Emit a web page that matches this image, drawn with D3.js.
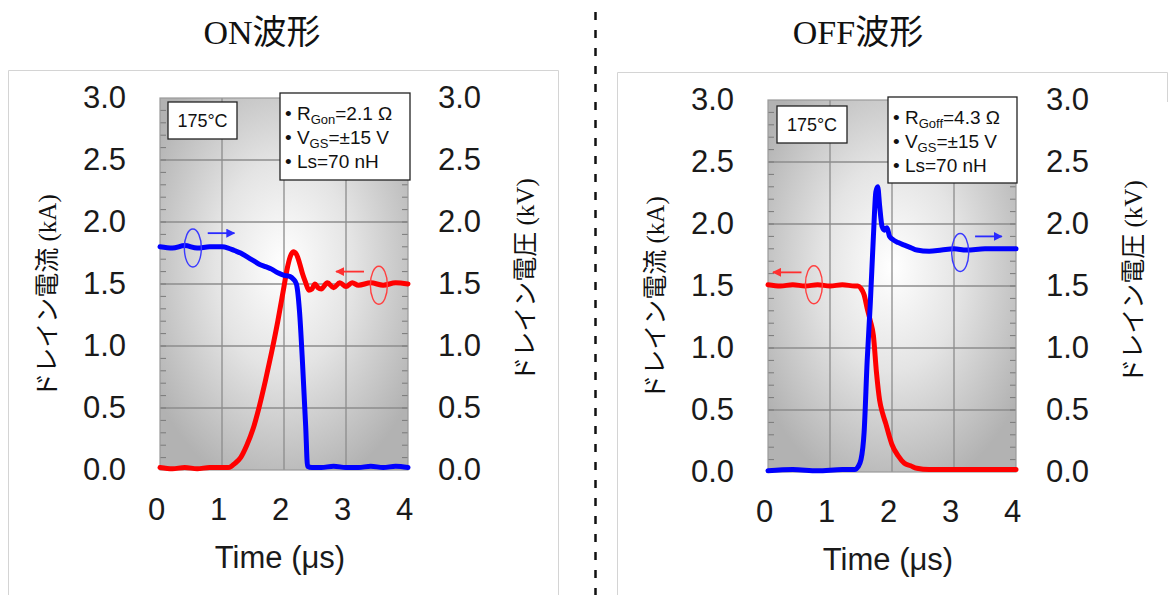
<!DOCTYPE html>
<html><head><meta charset="utf-8">
<script src="https://cdn.jsdelivr.net/npm/d3@7"></script>
<style>
html,body{margin:0;padding:0;background:#fff;}
svg{display:block;}
</style></head>
<body>
<svg id="chart" width="1172" height="595"></svg>
<script>
// ---------- DATA ----------
const xTicks = [0, 1, 2, 3, 4];
const yTicks = [0.0, 0.5, 1.0, 1.5, 2.0, 2.5, 3.0];
const panelTitles = ["ON波形", "OFF波形"];
const leftAxisTitle = "ドレイン電流 (kA)";
const rightAxisTitle = "ドレイン電圧 (kV)";
const xAxisTitle = "Time (μs)";
const tempLabel = "175°C";

// ON waveform: drain current (kA)
const onCurrentT = [0,0.2,0.4,0.6,0.8,1.0,1.1,1.15,1.2,1.3,1.4,1.5,1.6,1.7,1.8,1.9,2.0,2.05,2.1,2.15,2.2,2.25,2.3,2.35,2.4,2.45,2.5,2.55,2.6,2.7,2.8,2.9,3.0,3.1,3.2,3.4,3.6,3.8,4.0];
const onCurrentI = [0.02,0.01,0.02,0.01,0.02,0.02,0.02,0.03,0.05,0.10,0.20,0.33,0.51,0.72,0.95,1.20,1.48,1.62,1.72,1.76,1.74,1.67,1.58,1.51,1.45,1.46,1.50,1.47,1.46,1.51,1.47,1.51,1.48,1.51,1.49,1.51,1.49,1.51,1.50];
// ON waveform: drain voltage (kV)
const onVoltageT = [0,0.2,0.4,0.6,0.8,1.0,1.1,1.2,1.3,1.4,1.5,1.6,1.7,1.8,1.9,2.0,2.1,2.15,2.2,2.25,2.3,2.35,2.38,2.45,2.6,2.8,3.0,3.2,3.4,3.6,3.8,4.0];
const onVoltageV = [1.80,1.79,1.81,1.79,1.80,1.80,1.79,1.77,1.75,1.72,1.69,1.66,1.64,1.62,1.59,1.57,1.56,1.54,1.50,1.28,0.85,0.35,0.03,0.02,0.02,0.03,0.02,0.02,0.03,0.02,0.03,0.02];

// OFF waveform: drain current (kA)
const offCurrentT = [0,0.2,0.4,0.6,0.8,1.0,1.2,1.4,1.45,1.5,1.55,1.6,1.65,1.7,1.75,1.8,1.85,1.9,1.95,2.0,2.1,2.2,2.3,2.4,2.6,2.8,3.0,3.5,4.0];
const offCurrentI = [1.51,1.50,1.51,1.50,1.51,1.50,1.51,1.50,1.50,1.48,1.43,1.32,1.22,1.10,0.80,0.58,0.47,0.39,0.30,0.22,0.13,0.07,0.05,0.03,0.02,0.02,0.02,0.02,0.02];
// OFF waveform: drain voltage (kV)
const offVoltageT = [0,0.4,0.8,1.2,1.4,1.45,1.5,1.55,1.6,1.65,1.7,1.74,1.77,1.8,1.84,1.88,1.92,1.96,2.0,2.1,2.2,2.3,2.4,2.6,2.8,3.0,3.2,3.5,3.8,4.0];
const offVoltageV = [0.01,0.02,0.01,0.02,0.02,0.04,0.10,0.32,0.90,1.36,1.90,2.26,2.30,2.15,1.98,1.95,1.97,1.90,1.88,1.85,1.83,1.81,1.79,1.78,1.79,1.80,1.79,1.80,1.80,1.80];

const onParams = [["R","Gon","=2.1 Ω"],["V","GS","=±15 V"],["Ls","","=70 nH"]];
const offParams = [["R","Goff","=4.3 Ω"],["V","GS","=±15 V"],["Ls","","=70 nH"]];

// ---------- DRAW ----------
const svg = d3.select("#chart");
const defs = svg.append("defs");
const grad = defs.append("radialGradient").attr("id","bg")
  .attr("cx","50%").attr("cy","45%").attr("r","62%");
grad.append("stop").attr("offset","0%").attr("stop-color","#ffffff");
grad.append("stop").attr("offset","45%").attr("stop-color","#e4e4e4");
grad.append("stop").attr("offset","100%").attr("stop-color","#b2b2b2");

["red","blue"].forEach(c=>{
  defs.append("marker").attr("id","arr-"+c).attr("viewBox","0 0 10 10")
    .attr("refX",9).attr("refY",5).attr("markerWidth",5).attr("markerHeight",5)
    .attr("orient","auto").append("path").attr("d","M0,0 L10,5 L0,10 z")
    .attr("fill", c==="red" ? "#ff3030" : "#2a2aff");
});

// outer frames & divider
svg.append("path").attr("d","M8.5,595 V70.5 H558.5 V595").attr("fill","none").attr("stroke","#d4d4d4");
svg.append("path").attr("d","M617.5,595 V72.5 H1167.5 V102").attr("fill","none").attr("stroke","#d4d4d4");
svg.append("line").attr("x1",595.5).attr("x2",595.5).attr("y1",12).attr("y2",595)
  .attr("stroke","#111").attr("stroke-width",2.5).attr("stroke-dasharray","8,10");

const panels = [
  {x0:160, x1:408, y0:98, y1:470, title:panelTitles[0], tx:262,
   cur:[onCurrentT,onCurrentI], vol:[onVoltageT,onVoltageV], params:onParams,
   tempBox:[168,102,69,37], parBox:[280,93,130,87], leftTitleX:47, rightTitleX:525,
   ann:{blueE:[0.53,1.79], blueA:[0.77,1.20,1.91], redE:[3.53,1.49], redA:[3.29,2.84,1.60]}},
  {x0:768, x1:1016, y0:100, y1:472, title:panelTitles[1], tx:858,
   cur:[offCurrentT,offCurrentI], vol:[offVoltageT,offVoltageV], params:offParams,
   tempBox:[777,106,70,37], parBox:[888,97,129,86], leftTitleX:655, rightTitleX:1133,
   ann:{blueE:[3.10,1.77], blueA:[3.34,3.77,1.90], redE:[0.74,1.51], redA:[0.54,0.08,1.61]}}
];

const numFont = "'Liberation Sans', Arial, sans-serif";
const serifFont = "'Liberation Serif', 'Noto Sans CJK JP', serif";

panels.forEach(p=>{
  const x = d3.scaleLinear().domain([0,4]).range([p.x0,p.x1]);
  const y = d3.scaleLinear().domain([0,3]).range([p.y1,p.y0]);
  const g = svg.append("g");

  // title
  g.append("text").attr("x",p.tx).attr("y",44).attr("text-anchor","middle")
    .attr("font-family",serifFont).attr("font-size",34).attr("fill","#111").text(p.title);

  // plot bg
  g.append("rect").attr("x",p.x0).attr("y",p.y0).attr("width",p.x1-p.x0).attr("height",p.y1-p.y0)
    .attr("fill","url(#bg)");

  // grid
  g.selectAll(".gx").data(xTicks.slice(1,-1)).join("line")
    .attr("x1",d=>x(d)).attr("x2",d=>x(d)).attr("y1",p.y0).attr("y2",p.y1)
    .attr("stroke","#8c8c8c").attr("stroke-width",1.3);
  g.selectAll(".gy").data(yTicks.slice(1,-1)).join("line")
    .attr("y1",d=>y(d)).attr("y2",d=>y(d)).attr("x1",p.x0).attr("x2",p.x1)
    .attr("stroke","#8c8c8c").attr("stroke-width",1.3);

  // minor ticks
  const minor = d3.range(1,30).map(i=>i/10);
  g.selectAll(".ml").data(minor).join("line")
    .attr("x1",p.x0).attr("x2",p.x0+6).attr("y1",d=>y(d)).attr("y2",d=>y(d))
    .attr("stroke","#7a7a7a").attr("stroke-width",1);
  g.selectAll(".mr").data(minor).join("line")
    .attr("x1",p.x1-6).attr("x2",p.x1).attr("y1",d=>y(d)).attr("y2",d=>y(d))
    .attr("stroke","#7a7a7a").attr("stroke-width",1);

  g.append("rect").attr("x",p.x0).attr("y",p.y0).attr("width",p.x1-p.x0).attr("height",p.y1-p.y0)
    .attr("fill","none").attr("stroke","#9a9a9a").attr("stroke-width",1.2);

  // axes labels via d3 axes
  const fmt = d3.format(".1f");
  const axL = g.append("g").attr("transform",`translate(${p.x0},0)`)
    .call(d3.axisLeft(y).tickValues(yTicks).tickFormat(fmt).tickSize(0).tickPadding(34));
  const axR = g.append("g").attr("transform",`translate(${p.x1},0)`)
    .call(d3.axisRight(y).tickValues(yTicks).tickFormat(fmt).tickSize(0).tickPadding(30));
  const axB = g.append("g").attr("transform",`translate(0,${p.y1})`)
    .call(d3.axisBottom(x).tickValues(xTicks).tickFormat(d3.format("d")).tickSize(0).tickPadding(28));
  [axL,axR,axB].forEach(a=>{
    a.select(".domain").remove();
    a.selectAll("text").attr("font-family",numFont).attr("font-size",31).attr("fill","#1a1a1a");
  });
  axB.selectAll("text").attr("dx",-4);

  // axis titles
  g.append("text").attr("x",(p.x0+p.x1)/2 - 4).attr("y",p.y1+98).attr("text-anchor","middle")
    .attr("font-family",numFont).attr("font-size",31).attr("fill","#1a1a1a").text(xAxisTitle);
  const ym = (p.y0+p.y1)/2;
  g.append("text").attr("transform",`translate(${p.leftTitleX},${ym+12}) rotate(-90)`)
    .attr("text-anchor","middle").attr("dominant-baseline","central")
    .attr("font-family",serifFont).attr("font-size",25).attr("fill","#111").text(leftAxisTitle);
  g.append("text").attr("transform",`translate(${p.rightTitleX},${ym-4}) rotate(-90)`)
    .attr("text-anchor","middle").attr("dominant-baseline","central")
    .attr("font-family",serifFont).attr("font-size",25).attr("fill","#111").text(rightAxisTitle);

  // lines
  const line = d3.line().x(d=>x(d[0])).y(d=>y(d[1])).curve(d3.curveMonotoneX);
  const curPts = p.cur[0].map((t,i)=>[t,p.cur[1][i]]);
  const volPts = p.vol[0].map((t,i)=>[t,p.vol[1][i]]);
  [[curPts,"#ff0000"],[volPts,"#0000ff"]].forEach(([pts,c])=>{
    g.append("path").datum(pts).attr("d",line).attr("fill","none")
      .attr("stroke",c).attr("stroke-width",5).attr("stroke-linejoin","round").attr("stroke-linecap","round");
  });

  // annotations
  const a = p.ann;
  g.append("ellipse").attr("cx",x(a.blueE[0])).attr("cy",y(a.blueE[1])).attr("rx",8.5).attr("ry",19)
    .attr("fill","none").attr("stroke","#3a3aff").attr("stroke-width",1.4);
  g.append("line").attr("x1",x(a.blueA[0])).attr("x2",x(a.blueA[1])).attr("y1",y(a.blueA[2])).attr("y2",y(a.blueA[2]))
    .attr("stroke","#2a2aff").attr("stroke-width",1.8).attr("marker-end","url(#arr-blue)");
  g.append("ellipse").attr("cx",x(a.redE[0])).attr("cy",y(a.redE[1])).attr("rx",8.5).attr("ry",19)
    .attr("fill","none").attr("stroke","#ff4040").attr("stroke-width",1.4);
  g.append("line").attr("x1",x(a.redA[0])).attr("x2",x(a.redA[1])).attr("y1",y(a.redA[2])).attr("y2",y(a.redA[2]))
    .attr("stroke","#ff3030").attr("stroke-width",1.8).attr("marker-end","url(#arr-red)");

  // temp box
  const tb = p.tempBox;
  g.append("rect").attr("x",tb[0]).attr("y",tb[1]).attr("width",tb[2]).attr("height",tb[3])
    .attr("fill","#fff").attr("stroke","#222").attr("stroke-width",1.3);
  g.append("text").attr("x",tb[0]+tb[2]/2).attr("y",tb[1]+tb[3]/2+6).attr("text-anchor","middle")
    .attr("font-family",numFont).attr("font-size",18).attr("fill","#111").text(tempLabel);

  // params box
  const pb = p.parBox;
  g.append("rect").attr("x",pb[0]).attr("y",pb[1]).attr("width",pb[2]).attr("height",pb[3])
    .attr("fill","#fff").attr("stroke","#222").attr("stroke-width",1.3);
  p.params.forEach((row,i)=>{
    const t = g.append("text").attr("x",pb[0]+5).attr("y",pb[1]+27+i*24)
      .attr("font-family",numFont).attr("font-size",19).attr("fill","#111");
    t.append("tspan").text("• "+row[0]);
    if(row[1]) t.append("tspan").attr("font-size",13).attr("dy",4).text(row[1]);
    t.append("tspan").attr("dy",row[1]?-4:0).text(row[2]);
  });
});
</script>
</body></html>
